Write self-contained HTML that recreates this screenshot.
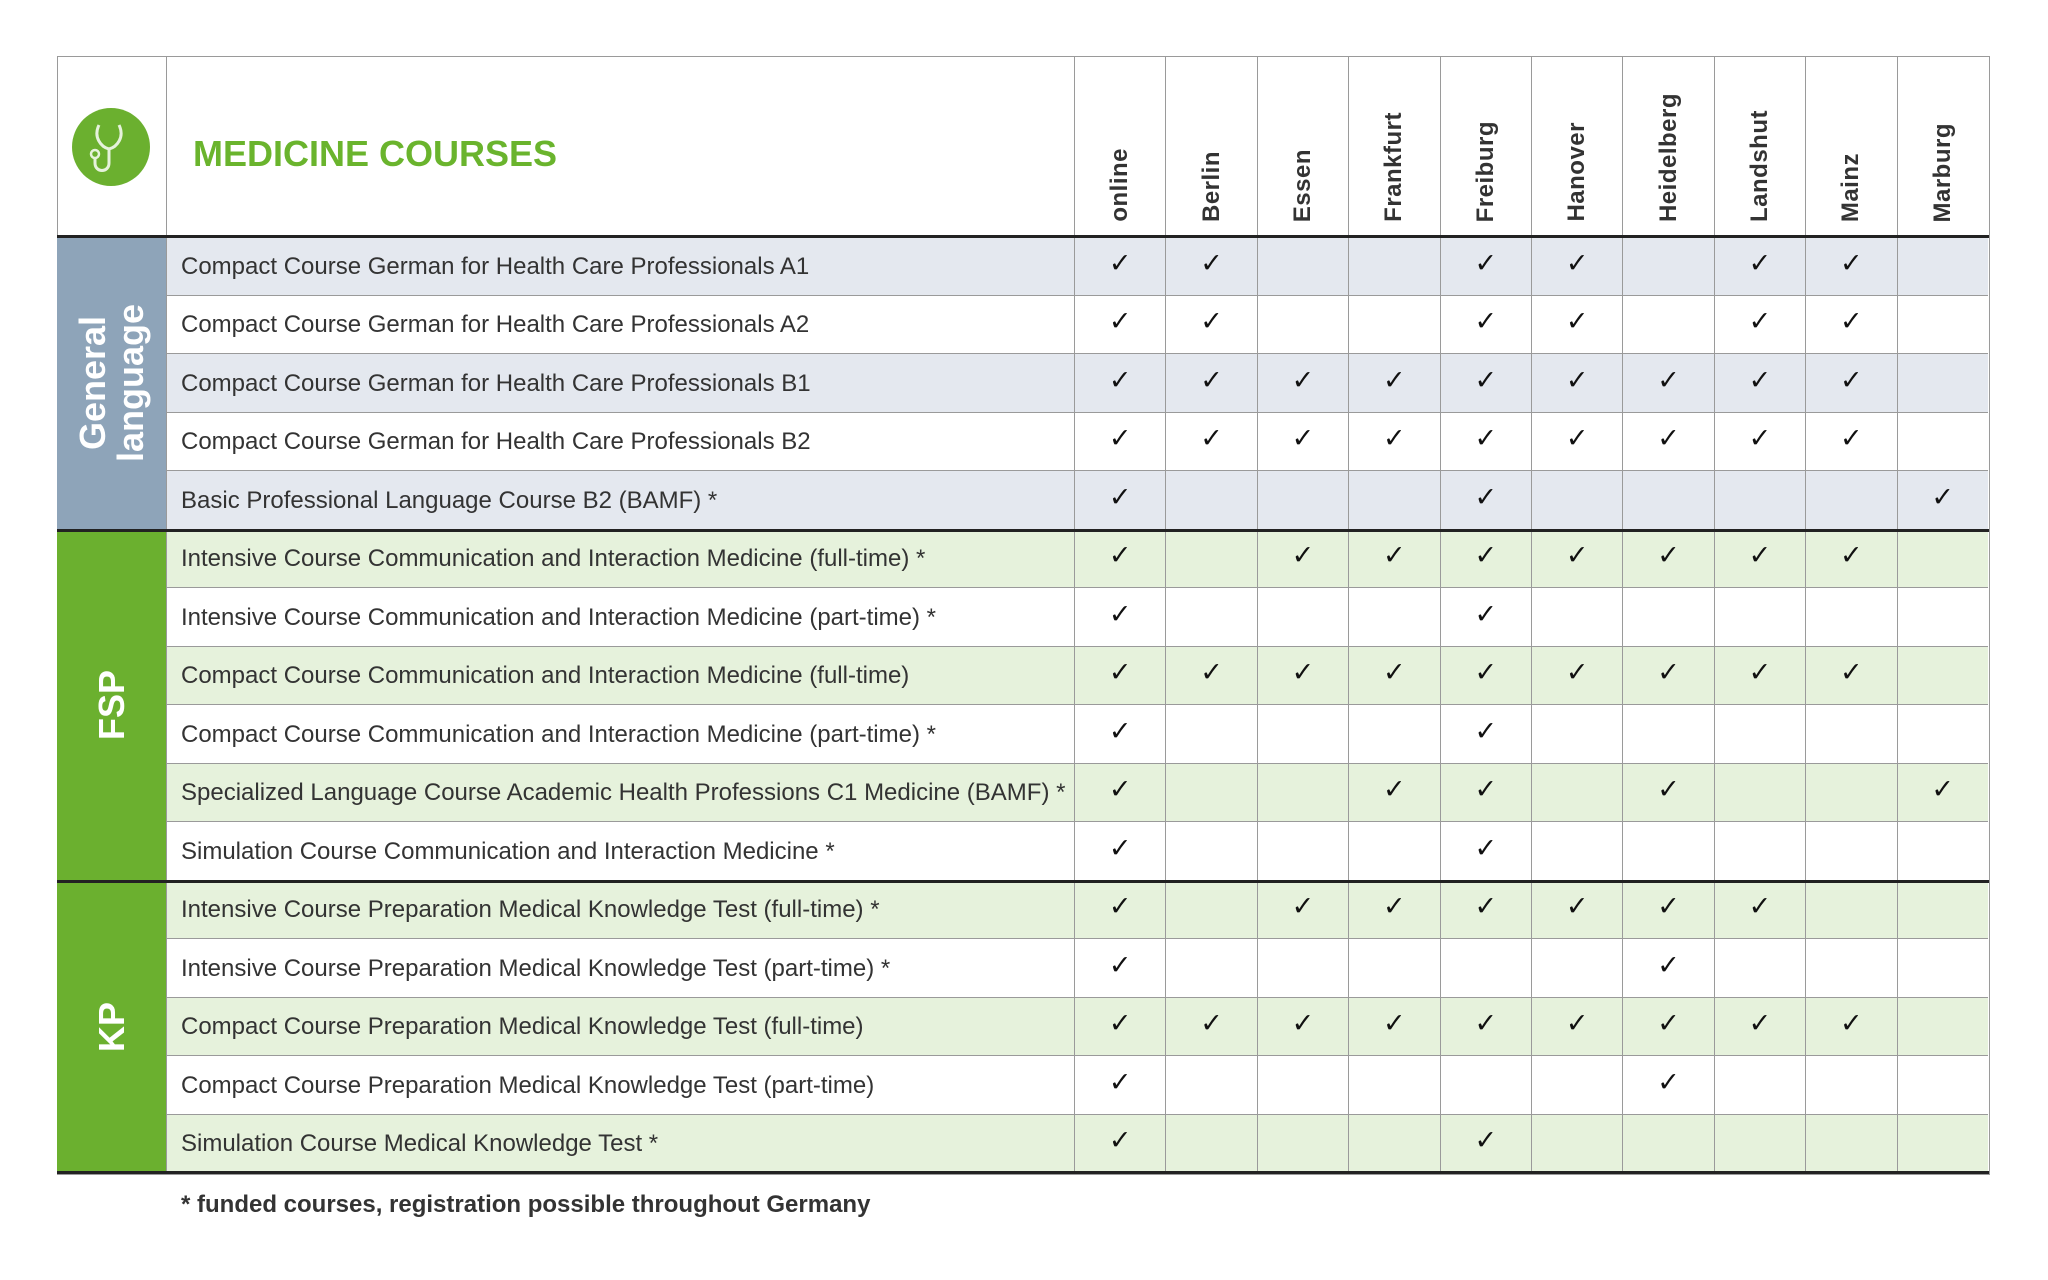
<!DOCTYPE html>
<html><head><meta charset="utf-8"><style>
body{margin:0;width:2048px;height:1280px;background:#fff;position:relative;font-family:"Liberation Sans",sans-serif;overflow:hidden}
.row{position:absolute;left:57px;width:1931px;height:58.5px;box-sizing:border-box;display:grid;grid-template-columns:109px 908px repeat(10,91.4px);border-bottom:1px solid #9a9a9a}
.row>div{border-left:1px solid #9a9a9a;display:flex;align-items:center;justify-content:center;font-family:"DejaVu Sans",sans-serif;font-size:27px;color:#111;padding-bottom:5px;box-sizing:border-box}
.row>div.c{justify-content:flex-start;font-family:"Liberation Sans",sans-serif;font-size:24px;color:#333;padding-left:14px;padding-bottom:0;padding-top:2px;white-space:nowrap}
.g{background:#e4e8ef}.f{background:#e6f2dc}
.hdr{position:absolute;left:57px;top:56px;width:1931px;height:180px;display:grid;grid-template-columns:109px 908px repeat(10,91.4px)}
.hdr>div{border-left:1px solid #9a9a9a;box-sizing:border-box;position:relative}
.city{display:flex;justify-content:center;align-items:flex-end;padding-bottom:14px}
.city span{writing-mode:vertical-rl;transform:rotate(180deg);font-weight:bold;font-size:24px;color:#333;letter-spacing:0.5px}
.cat{position:absolute;left:57px;width:109px;color:#fff;font-weight:bold;display:flex;align-items:center;justify-content:center}
.cat span{writing-mode:vertical-rl;transform:rotate(180deg);font-size:36px;line-height:1.05;text-align:center}
.thick{position:absolute;left:57px;width:1932px;height:3px;background:#222}
</style></head><body>
<div style="position:absolute;left:57px;top:56px;width:1931px;height:1117px;border:1px solid #9a9a9a;border-left-color:#9a9a9a"></div>
<div class="hdr">
<div style="border-left:none"><svg width="80" height="80" viewBox="0 0 80 80" style="position:absolute;left:14px;top:51px"><circle cx="40" cy="40" r="39" fill="#6bb02f"/><path d="M28 18 C22 30 30 40 38 42 C46 40 54 30 48 18" fill="none" stroke="#e6f2dc" stroke-width="3"/><path d="M38 42 L38 56 C38 66 24 66 24 56 L24 50" fill="none" stroke="#e6f2dc" stroke-width="3"/><circle cx="24" cy="47" r="4" fill="none" stroke="#e6f2dc" stroke-width="2.5"/></svg></div>
<div style="padding-left:26px;padding-top:98px;font-size:36px;font-weight:bold;color:#6ab42d;line-height:0">MEDICINE COURSES</div>
<div class="city"><span>online</span></div><div class="city"><span>Berlin</span></div><div class="city"><span>Essen</span></div><div class="city"><span>Frankfurt</span></div><div class="city"><span>Freiburg</span></div><div class="city"><span>Hanover</span></div><div class="city"><span>Heidelberg</span></div><div class="city"><span>Landshut</span></div><div class="city"><span>Mainz</span></div><div class="city"><span>Marburg</span></div>
</div>

<div class="row g" style="top:237px"><div style="border-left:none"></div><div class="c">Compact Course German for Health Care Professionals A1</div><div>✓</div><div>✓</div><div></div><div></div><div>✓</div><div>✓</div><div></div><div>✓</div><div>✓</div><div></div></div>
<div class="row" style="top:295.5px"><div style="border-left:none"></div><div class="c">Compact Course German for Health Care Professionals A2</div><div>✓</div><div>✓</div><div></div><div></div><div>✓</div><div>✓</div><div></div><div>✓</div><div>✓</div><div></div></div>
<div class="row g" style="top:354px"><div style="border-left:none"></div><div class="c">Compact Course German for Health Care Professionals B1</div><div>✓</div><div>✓</div><div>✓</div><div>✓</div><div>✓</div><div>✓</div><div>✓</div><div>✓</div><div>✓</div><div></div></div>
<div class="row" style="top:412.5px"><div style="border-left:none"></div><div class="c">Compact Course German for Health Care Professionals B2</div><div>✓</div><div>✓</div><div>✓</div><div>✓</div><div>✓</div><div>✓</div><div>✓</div><div>✓</div><div>✓</div><div></div></div>
<div class="row g" style="top:471px"><div style="border-left:none"></div><div class="c">Basic Professional Language Course B2 (BAMF) *</div><div>✓</div><div></div><div></div><div></div><div>✓</div><div></div><div></div><div></div><div></div><div>✓</div></div>
<div class="row f" style="top:529.5px"><div style="border-left:none"></div><div class="c">Intensive Course Communication and Interaction Medicine (full-time) *</div><div>✓</div><div></div><div>✓</div><div>✓</div><div>✓</div><div>✓</div><div>✓</div><div>✓</div><div>✓</div><div></div></div>
<div class="row" style="top:588px"><div style="border-left:none"></div><div class="c">Intensive Course Communication and Interaction Medicine (part-time) *</div><div>✓</div><div></div><div></div><div></div><div>✓</div><div></div><div></div><div></div><div></div><div></div></div>
<div class="row f" style="top:646.5px"><div style="border-left:none"></div><div class="c">Compact Course Communication and Interaction Medicine (full-time)</div><div>✓</div><div>✓</div><div>✓</div><div>✓</div><div>✓</div><div>✓</div><div>✓</div><div>✓</div><div>✓</div><div></div></div>
<div class="row" style="top:705px"><div style="border-left:none"></div><div class="c">Compact Course Communication and Interaction Medicine (part-time) *</div><div>✓</div><div></div><div></div><div></div><div>✓</div><div></div><div></div><div></div><div></div><div></div></div>
<div class="row f" style="top:763.5px"><div style="border-left:none"></div><div class="c">Specialized Language Course Academic Health Professions C1 Medicine (BAMF) *</div><div>✓</div><div></div><div></div><div>✓</div><div>✓</div><div></div><div>✓</div><div></div><div></div><div>✓</div></div>
<div class="row" style="top:822px"><div style="border-left:none"></div><div class="c">Simulation Course Communication and Interaction Medicine *</div><div>✓</div><div></div><div></div><div></div><div>✓</div><div></div><div></div><div></div><div></div><div></div></div>
<div class="row f" style="top:880.5px"><div style="border-left:none"></div><div class="c">Intensive Course Preparation Medical Knowledge Test (full-time) *</div><div>✓</div><div></div><div>✓</div><div>✓</div><div>✓</div><div>✓</div><div>✓</div><div>✓</div><div></div><div></div></div>
<div class="row" style="top:939px"><div style="border-left:none"></div><div class="c">Intensive Course Preparation Medical Knowledge Test (part-time) *</div><div>✓</div><div></div><div></div><div></div><div></div><div></div><div>✓</div><div></div><div></div><div></div></div>
<div class="row f" style="top:997.5px"><div style="border-left:none"></div><div class="c">Compact Course Preparation Medical Knowledge Test (full-time)</div><div>✓</div><div>✓</div><div>✓</div><div>✓</div><div>✓</div><div>✓</div><div>✓</div><div>✓</div><div>✓</div><div></div></div>
<div class="row" style="top:1056px"><div style="border-left:none"></div><div class="c">Compact Course Preparation Medical Knowledge Test (part-time)</div><div>✓</div><div></div><div></div><div></div><div></div><div></div><div>✓</div><div></div><div></div><div></div></div>
<div class="row f" style="top:1114.5px"><div style="border-left:none"></div><div class="c">Simulation Course Medical Knowledge Test *</div><div>✓</div><div></div><div></div><div></div><div>✓</div><div></div><div></div><div></div><div></div><div></div></div>

<div class="cat" style="top:237px;height:293px;background:#8ea4b9"><span>General<br>language</span></div>
<div class="cat" style="top:530px;height:351px;background:#6bb02f"><span>FSP</span></div>
<div class="cat" style="top:881px;height:292px;background:#6bb02f"><span>KP</span></div>

<div class="thick" style="top:235px"></div>
<div class="thick" style="top:528.5px"></div>
<div class="thick" style="top:879.5px"></div>
<div class="thick" style="top:1171px"></div>

<div style="position:absolute;left:181px;top:1191px;font-size:24px;font-weight:bold;color:#333">* funded courses, registration possible throughout Germany</div>
</body></html>
